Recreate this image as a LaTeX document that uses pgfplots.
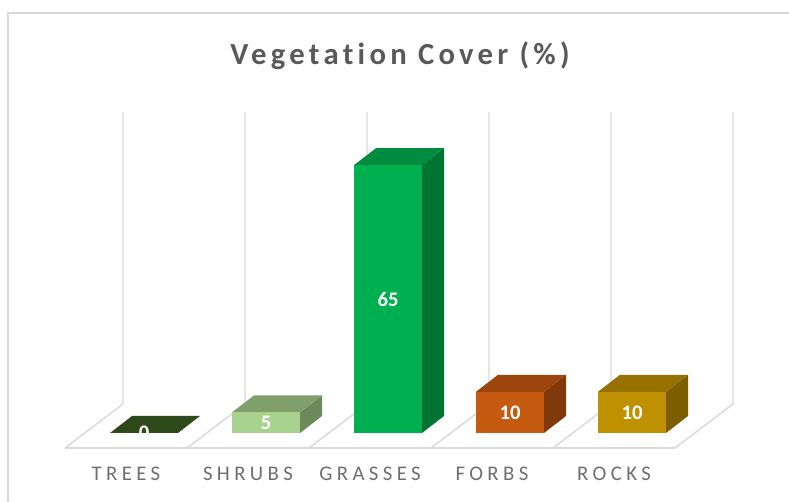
\documentclass[border=0pt]{standalone}
\usepackage{pgfplots}
\pgfplotsset{compat=1.18}
\usepackage{fontspec}
\setmainfont{Carlito}[Ligatures={NoCommon,TeX}]
\definecolor{framec}{HTML}{D9D9D9}
\definecolor{gridc}{HTML}{D9D9D9}
\definecolor{titlec}{HTML}{595959}
\definecolor{labc}{HTML}{6E6E6E}
\definecolor{treesT}{HTML}{2E4A1B}
\definecolor{shrubF}{HTML}{A9D18E}
\definecolor{shrubT}{HTML}{809F6B}
\definecolor{shrubS}{HTML}{6C8A59}
\definecolor{grassF}{HTML}{00B050}
\definecolor{grassT}{HTML}{008C3F}
\definecolor{grassS}{HTML}{007433}
\definecolor{forbF}{HTML}{C55A11}
\definecolor{forbT}{HTML}{9C460D}
\definecolor{forbS}{HTML}{80390B}
\definecolor{rockF}{HTML}{BF9000}
\definecolor{rockT}{HTML}{977100}
\definecolor{rockS}{HTML}{7C5D00}
\begin{document}
\begin{tikzpicture}
\begin{axis}[
  scale only axis, width=591.75pt, height=376.5pt,
  xmin=-1.1803, xmax=5.2869, ymin=-16.748, ymax=105.097,
  clip=false,
  axis line style={draw=none}, tick style={draw=none},
  ytick=\empty,
  xtick={-0.1475,0.8525,1.8525,2.8525,3.8525},
  xticklabels={TREES,SHRUBS,GRASSES,FORBS,ROCKS},
  xticklabel style={anchor=center, yshift=21pt, text=labc,
    font=\addfontfeature{LetterSpace=21}\fontsize{15.6pt}{18pt}\selectfont},
]
% chart frame
\draw[framec, line width=1.5pt] (axis cs:-1.1148,-16.748) -- (axis cs:-1.1148,101.94) -- (axis cs:5.2869,101.94);
% title
\node[anchor=base, text=titlec, font=\bfseries\addfontfeature{LetterSpace=14,Ligatures=NoCommon}\fontsize{23pt}{26pt}\selectfont]
  at (axis cs:2.0984,89.32) {Vegetation Cover (\%)};
% back wall gridlines
\foreach \k in {0,...,5}{
  \edef\tmp{\noexpand\draw[gridc, line width=1.1pt] (axis cs:\k-0.1721,77.91) -- (axis cs:\k-0.1721,7.04) -- (axis cs:\k-0.6475,-3.64);}
  \tmp
}
\draw[gridc, line width=1.1pt] (axis cs:-0.6475,-3.64) -- (axis cs:4.3525,-3.64);
% TREES (0)
\addplot[fill=treesT, draw=none] coordinates {(-0.2787,0) (0.2787,0) (0.4590,4.126) (-0.0984,4.126)};
\addplot[ybar, bar width=0.5574, bar shift=0pt, fill=treesT, draw=none] coordinates {(0,0)};
% SHRUBS (5)
\addplot[fill=shrubS, draw=none] coordinates {(1.2787,0) (1.4590,4.126) (1.4590,9.126) (1.2787,5)};
\addplot[fill=shrubT, draw=none] coordinates {(0.7213,5) (1.2787,5) (1.4590,9.126) (0.9016,9.126)};
\addplot[ybar, bar width=0.5574, bar shift=0pt, fill=shrubF, draw=none] coordinates {(1,5)};
% GRASSES (65)
\addplot[fill=grassS, draw=none] coordinates {(2.2787,0) (2.4590,4.126) (2.4590,69.126) (2.2787,65)};
\addplot[fill=grassT, draw=none] coordinates {(1.7213,65) (2.2787,65) (2.4590,69.126) (1.9016,69.126)};
\addplot[ybar, bar width=0.5574, bar shift=0pt, fill=grassF, draw=none] coordinates {(2,65)};
% FORBS (10)
\addplot[fill=forbS, draw=none] coordinates {(3.2787,0) (3.4590,4.126) (3.4590,14.126) (3.2787,10)};
\addplot[fill=forbT, draw=none] coordinates {(2.7213,10) (3.2787,10) (3.4590,14.126) (2.9016,14.126)};
\addplot[ybar, bar width=0.5574, bar shift=0pt, fill=forbF, draw=none] coordinates {(3,10)};
% ROCKS (10)
\addplot[fill=rockS, draw=none] coordinates {(4.2787,0) (4.4590,4.126) (4.4590,14.126) (4.2787,10)};
\addplot[fill=rockT, draw=none] coordinates {(3.7213,10) (4.2787,10) (4.4590,14.126) (3.9016,14.126)};
\addplot[ybar, bar width=0.5574, bar shift=0pt, fill=rockF, draw=none] coordinates {(4,10)};
% data labels
\begin{scope}[every node/.style={text=white, font=\bfseries\fontsize{15.5pt}{18pt}\selectfont, anchor=center}]
\node at (axis cs:0,0) {0};
\node at (axis cs:1,2.5) {5};
\node at (axis cs:2,32.5) {65};
\node at (axis cs:3,5) {10};
\node at (axis cs:4,5) {10};
\end{scope}
\end{axis}
\pgfresetboundingbox
\useasboundingbox (current axis.south west) rectangle (current axis.north east);
\end{tikzpicture}
\end{document}
